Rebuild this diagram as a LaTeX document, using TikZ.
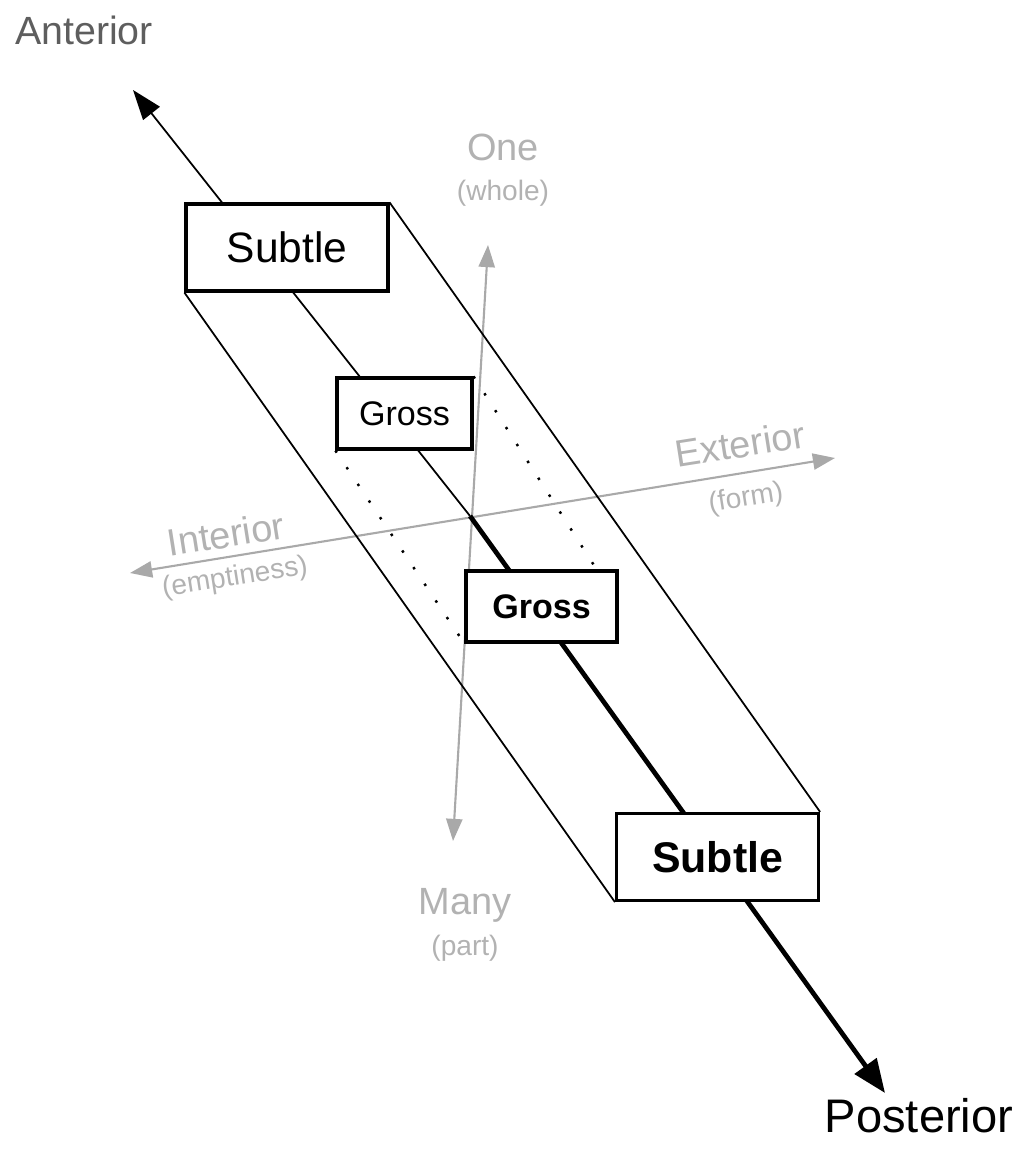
\documentclass[tikz,border=0pt]{standalone}
\usepackage{fontspec}
\setmainfont{Liberation Sans}
\usepackage{tikz}
\usetikzlibrary{arrows.meta}
\usetikzlibrary{backgrounds}
\usetikzlibrary{calc}
\definecolor{axisgray}{HTML}{A9A9A9}
\definecolor{labgray}{HTML}{B2B2B2}
\definecolor{antgray}{HTML}{5E5E5E}
\tikzset{
	box/.style = {draw, line width=0.9pt, fill=white, inner sep=0pt},
	bigbox/.style = {box, minimum width=20.2mm, minimum height=8.7mm},
	smallbox/.style = {box, minimum height=7.1mm},
	thinline/.style = {line width=0.5pt},
	thickline/.style = {line width=1.35pt},
	dotline/.style = {line width=0.7pt, dash pattern=on 0.7pt off 5pt},
	grayaxis/.style = {draw=axisgray, line width=0.6pt, {Triangle[length=6.3pt,width=4.6pt]}-{Triangle[length=6.3pt,width=4.6pt]}},
	axislabel/.style = {text=labgray, font=\fontsize{10.8}{12}\selectfont},
	axisnote/.style = {text=labgray, font=\fontsize{8}{9}\selectfont}
}

\begin{document}
\begin{tikzpicture}[x=0.1mm, y=-0.1mm]
		\useasboundingbox (0,0) rectangle (1026,1152);
		\coordinate (ant) at (133,90);
		\coordinate (post) at (885,1093);
		\coordinate (ctr) at (470,516);
		\coordinate (one) at (488,245);
		\coordinate (many) at (453,841);
		\coordinate (int) at (130,573);
		\coordinate (ext) at (835,458);
		\node[bigbox, font=\fontsize{12.1}{14}\selectfont] (sub1) at (287,247.5) {Subtle};
		\node[smallbox, minimum width=13.5mm, font=\fontsize{9.7}{11}\selectfont] (gro1) at (404.5,413.5) {Gross};
		\node[smallbox, minimum width=15.1mm, font=\fontsize{9.7}{11}\selectfont\bfseries] (gro2) at (541.5,606.5) {Gross};
		\node[bigbox, font=\fontsize{12.2}{14}\selectfont\bfseries] (sub2) at (717.5,857) {Subtle};
		\node[text=antgray, font=\fontsize{11.2}{13}\selectfont] (antlab) at (84,30) {Anterior};
		\node[font=\fontsize{13.4}{15}\selectfont] (postlab) at (919,1116) {Posterior};
		\node[axislabel] (onelab) at (503,147) {One};
		\node[axisnote] (wholelab) at (503,193) {(whole)};
		\node[axislabel] (manylab) at (465,905) {Many};
		\node[axisnote] (partlab) at (465,948) {(part)};
		\node[axislabel, rotate=9] (intlab) at (226,534) {Interior};
		\node[axisnote, rotate=9] (emptlab) at (235,578) {(emptiness)};
		\node[axislabel, rotate=9] (extlab) at (740,444) {Exterior};
		\node[axisnote, rotate=9] (formlab) at (746,499) {(form)};
		\begin{scope}[on background layer]
			\draw[grayaxis] (many) -- (one);
			\draw[grayaxis] (int) -- (ext);
			\draw[thinline, -{Triangle[length=8.5pt,width=6pt]}] (ctr) -- (ant);
			\draw[thickline, -{Triangle[length=9.5pt,width=7.5pt]}] (ctr) -- (post);
			\draw[thinline] (sub1.south west) -- (sub2.south west);
			\draw[thinline] (sub1.north east) -- (sub2.north east);
			\draw[dotline] (gro1.south west) -- (gro2.south west);
			\draw[dotline] (gro1.north east) -- ($(gro2.north east)+(-22,0)$);
		\end{scope}
	\end{tikzpicture}
\end{document}
